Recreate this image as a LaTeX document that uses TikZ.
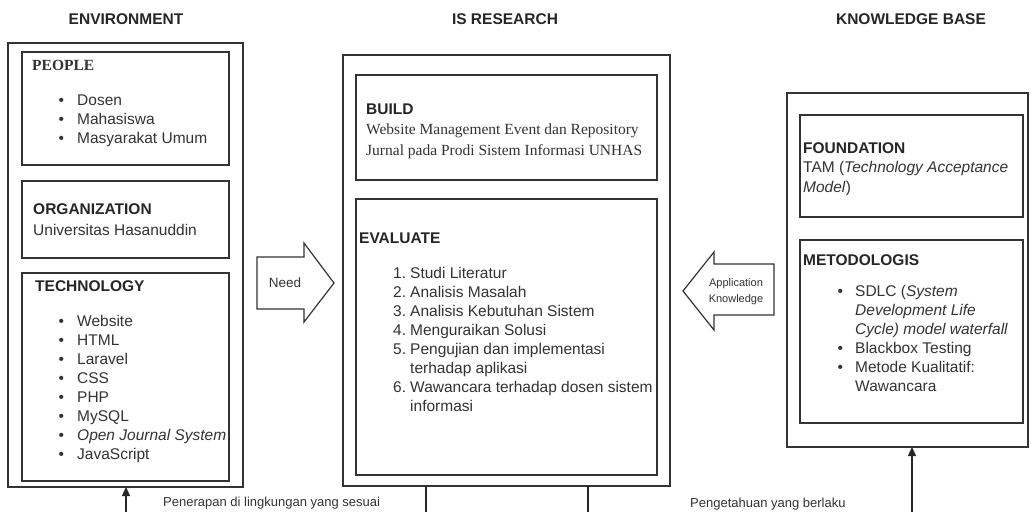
\documentclass[tikz,border=0pt]{standalone}
\usepackage{fontspec}
\setmainfont{Liberation Serif}
\newfontfamily\sansf{Liberation Sans}
\usetikzlibrary{arrows.meta}
\newcommand{\bul}[1]{\makebox[18.7pt][l]{•}#1}
\newcommand{\numi}[2]{\makebox[17pt][l]{#1}#2}
\begin{document}
\begin{tikzpicture}[x=1pt,y=-1pt,
  box/.style={draw=black!80,line width=1.2pt,inner sep=0pt,outer sep=0pt,anchor=north west},
  txt/.style={inner sep=0pt,anchor=base west,text=black!80,font=\sansf\fontsize{15.5}{19}\selectfont},
  stxt/.style={inner sep=0pt,anchor=base west,text=black!80,font=\fontsize{15.5}{19}\selectfont},
  head/.style={inner sep=0pt,anchor=base,text=black!85,font=\sansf\bfseries\fontsize{15.5}{19}\selectfont},
  ttl/.style={inner sep=0pt,anchor=base west,text=black!85,font=\sansf\bfseries\fontsize{15.5}{19}\selectfont},
  small/.style={inner sep=0pt,text=black!80,font=\sansf\fontsize{11}{13}\selectfont},
  note/.style={inner sep=0pt,anchor=base west,text=black!80,font=\sansf\fontsize{13}{15}\selectfont},
  bigarrow/.style={draw=black!80,line width=1.2pt,fill=white,line join=miter},
  conn/.style={draw=black!85,line width=1.3pt},
  arr/.style={conn,-{Triangle[length=9pt,width=8pt]}}
]
\path[fill=white,use as bounding box] (0,0) rectangle (1031,512);

% ---------------- column headers
\node[head] (hEnv) at (126,24.5) {ENVIRONMENT};
\node[head] (hIS) at (505,24.5) {IS RESEARCH};
\node[head] (hKB) at (911,24.5) {KNOWLEDGE BASE};

% ---------------- ENVIRONMENT
\node[box,minimum width=235pt,minimum height=444pt] (env) at (8,43) {};
\node[box,minimum width=207pt,minimum height=113pt] (people) at (22,52) {};
\node[box,minimum width=207pt,minimum height=77pt] (org) at (22,181) {};
\node[box,minimum width=207pt,minimum height=208pt] (tech) at (22,273) {};

\node[stxt,font=\bfseries\fontsize{15.5}{19}\selectfont] (tPeople) at (32,70) {PEOPLE};
\foreach \t [count=\i] in {Dosen,Mahasiswa,Masyarakat Umum}
  \node[txt] (pp\i) at (58.3,{105+19*(\i-1)}) {\bul{\t}};

\node[ttl] (tOrg) at (33,214) {ORGANIZATION};
\node[txt] (uh) at (33,235) {Universitas Hasanuddin};

\node[ttl] (tTech) at (35,291) {TECHNOLOGY};
\foreach \t [count=\i] in {Website,HTML,Laravel,CSS,PHP,MySQL,{\textit{Open Journal System}},JavaScript}
  \node[txt] (tt\i) at (58.3,{326+19*(\i-1)}) {\bul{\t}};

% ---------------- IS RESEARCH
\node[box,minimum width=327pt,minimum height=431pt] (is) at (343,55) {};
\node[box,minimum width=301pt,minimum height=105pt] (build) at (356,75) {};
\node[box,minimum width=301pt,minimum height=276pt] (eval) at (356,199) {};

\node[ttl] (tBuild) at (366,114.5) {BUILD};
\node[stxt] (b1) at (366,134.5) {Website Management Event dan Repository};
\node[stxt] (b2) at (366,155) {Jurnal pada Prodi Sistem Informasi UNHAS};

\node[ttl] (tEval) at (359,243) {EVALUATE};
\node[txt] (e1) at (393,278) {\numi{1.}{Studi Literatur}};
\node[txt] (e2) at (393,297) {\numi{2.}{Analisis Masalah}};
\node[txt] (e3) at (393,316) {\numi{3.}{Analisis Kebutuhan Sistem}};
\node[txt] (e4) at (393,335) {\numi{4.}{Menguraikan Solusi}};
\node[txt] (e5) at (393,354) {\numi{5.}{Pengujian dan implementasi}};
\node[txt] (e5b) at (410,373) {terhadap aplikasi};
\node[txt] (e6) at (393,392) {\numi{6.}{Wawancara terhadap dosen sistem}};
\node[txt] (e6b) at (410,411) {informasi};

% ---------------- KNOWLEDGE BASE
\node[box,minimum width=241pt,minimum height=354pt] (kb) at (787,93) {};
\node[box,minimum width=223pt,minimum height=102pt] (found) at (800,115) {};
\node[box,minimum width=223pt,minimum height=183pt] (metod) at (800,240) {};

\node[ttl] (tFound) at (803,153.5) {FOUNDATION};
\node[txt] (f1) at (803,172.5) {TAM (\textit{Technology Acceptance}};
\node[txt] (f2) at (803,192) {\textit{Model})};

\node[ttl] (tMet) at (803,265) {METODOLOGIS};
\node[txt] (m1) at (837.3,296) {\makebox[17.7pt][l]{•}SDLC (\textit{System}};
\node[txt] (m2) at (855,315) {\textit{Development Life}};
\node[txt] (m3) at (855,334) {\textit{Cycle) model waterfall}};
\node[txt] (m4) at (837.3,353) {\makebox[17.7pt][l]{•}Blackbox Testing};
\node[txt] (m5) at (837.3,372) {\makebox[17.7pt][l]{•}Metode Kualitatif:};
\node[txt] (m6) at (855,391) {Wawancara};

% ---------------- block arrows
\draw[bigarrow] (257,257) -- (304,257) -- (304,243) -- (334,283) -- (304,322) -- (304,309) -- (257,309) -- cycle;
\node[inner sep=0pt,text=black!80,font=\sansf\fontsize{13.5}{16}\selectfont] (need) at (285,283) {Need};

\draw[bigarrow] (774,264) -- (714,264) -- (714,252) -- (683,291) -- (714,330) -- (714,315) -- (774,315) -- cycle;
\node[small] (app1) at (736,284) {Application};
\node[small] (app2) at (736,299.5) {Knowledge};

% ---------------- bottom connectors
\coordinate (c1) at (126,512);
\coordinate (c2) at (426,512);
\coordinate (c3) at (588,512);
\coordinate (c4) at (912,512);
\draw[arr] (c1) -- (c1 |- env.south);
\draw[conn] (c2) -- (c2 |- is.south);
\draw[conn] (c3) -- (c3 |- is.south);
\draw[arr] (c4) -- (c4 |- kb.south);

\node[note] (lPen) at (163,506.5) {Penerapan di lingkungan yang sesuai};
\node[note] (lPeng) at (690,507) {Pengetahuan yang berlaku};
\end{tikzpicture}
\end{document}
